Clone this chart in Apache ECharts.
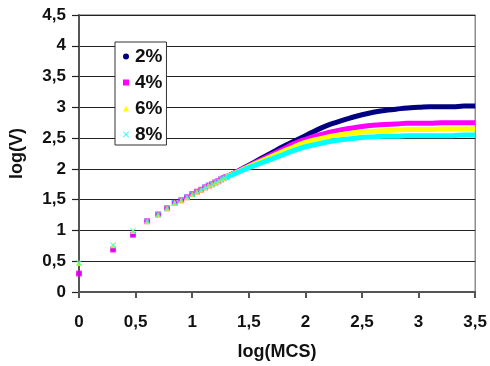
<!DOCTYPE html>
<html>
<head>
<meta charset="utf-8">
<script src="https://cdn.jsdelivr.net/npm/echarts@6/dist/echarts.min.js"></script>
<style>
  html, body { margin: 0; padding: 0; background: #fff; }
  #chart { width: 490px; height: 366px; }
</style>
</head>
<body>
<div id="chart"></div>
<script>
// log(MCS) of the first steps (MCS = 1..20), one marker each
const xSparse = [0, 0.301, 0.477, 0.602, 0.699, 0.778, 0.845, 0.903, 0.954, 1.0,
    1.041, 1.079, 1.114, 1.146, 1.176, 1.204, 1.230, 1.255, 1.279, 1.301];
const sparse2 = [0.30, 0.69, 0.93, 1.15, 1.26, 1.36, 1.45, 1.49, 1.54, 1.59,
    1.63, 1.66, 1.70, 1.73, 1.75, 1.78, 1.80, 1.83, 1.85, 1.87];
const sparse4 = [0.30, 0.69, 0.93, 1.15, 1.26, 1.36, 1.45, 1.49, 1.54, 1.59,
    1.63, 1.66, 1.70, 1.73, 1.75, 1.78, 1.80, 1.83, 1.85, 1.87];
const sparse6 = [0.47, 0.76, 0.99, 1.15, 1.26, 1.36, 1.45, 1.49, 1.54, 1.59,
    1.63, 1.66, 1.70, 1.73, 1.75, 1.78, 1.80, 1.83, 1.85, 1.87];
const sparse8 = [0.47, 0.76, 0.99, 1.15, 1.26, 1.36, 1.45, 1.49, 1.54, 1.59,
    1.63, 1.66, 1.70, 1.73, 1.75, 1.78, 1.80, 1.83, 1.85, 1.86];

// later steps, where the markers merge into a band
const xDense = [1.3, 1.4, 1.5, 1.6, 1.7, 1.8, 1.9, 2.0, 2.1, 2.2, 2.3, 2.4,
    2.5, 2.6, 2.7, 2.8, 2.9, 3.0, 3.1, 3.2, 3.3, 3.4, 3.5];
const dense2 = [1.87, 1.96, 2.06, 2.16, 2.26, 2.36, 2.45, 2.54, 2.63, 2.71, 2.77, 2.83,
    2.88, 2.92, 2.95, 2.97, 2.99, 3.00, 3.01, 3.01, 3.01, 3.02, 3.02];
const dense4 = [1.87, 1.96, 2.05, 2.14, 2.23, 2.32, 2.41, 2.48, 2.54, 2.59, 2.63, 2.66,
    2.69, 2.71, 2.72, 2.73, 2.74, 2.74, 2.74, 2.75, 2.75, 2.75, 2.75];
const dense6 = [1.87, 1.95, 2.04, 2.12, 2.20, 2.28, 2.36, 2.43, 2.48, 2.52, 2.55, 2.58,
    2.60, 2.61, 2.62, 2.63, 2.64, 2.64, 2.64, 2.65, 2.65, 2.65, 2.65];
const dense8 = [1.86, 1.94, 2.02, 2.09, 2.16, 2.23, 2.30, 2.36, 2.40, 2.44, 2.47, 2.49,
    2.51, 2.52, 2.53, 2.53, 2.54, 2.54, 2.54, 2.54, 2.54, 2.55, 2.55];

const names = ['2%', '4%', '6%', '8%'];
const colors = ['#000080', '#ff00ff', '#ffff00', '#00ffff'];
const crossPath = 'path://M0,1L1,0L5,4L9,0L10,1L6,5L10,9L9,10L5,6L1,10L0,9L4,5Z';
const symbols = ['circle', 'rect', 'triangle', crossPath];
const symbolSizes = [5, 6, 6, 6];
const sparseSets = [sparse2, sparse4, sparse6, sparse8];
const denseSets = [dense2, dense4, dense6, dense8];

const zip = (xs, ys) => xs.map((x, i) => [x, ys[i]]);
const comma = v => String(v).replace('.', ',');

const series = [];
names.forEach((name, i) => {
    series.push({
        name: name,
        type: 'line',
        data: zip(xDense, denseSets[i]),
        smooth: true,
        showSymbol: false,
        lineStyle: { color: colors[i], width: 5 },
        itemStyle: { color: colors[i] },
        z: 2 + i,
        animation: false
    });
    series.push({
        name: name,
        type: 'scatter',
        data: zip(xSparse, sparseSets[i]),
        symbol: symbols[i],
        symbolSize: symbolSizes[i],
        itemStyle: { color: colors[i] },
        z: 2 + i,
        animation: false
    });
});

const chart = echarts.init(document.getElementById('chart'));
chart.setOption({
    animation: false,
    textStyle: { fontFamily: 'Liberation Sans, Arial, sans-serif' },
    grid: {
        left: 77, right: 14, top: 15, bottom: 73,
        show: true, borderColor: '#555', borderWidth: 1
    },
    legend: {
        orient: 'vertical',
        left: 115, top: 42,
        padding: [5, 4, 1, 8],
        backgroundColor: '#fff',
        borderColor: '#333',
        borderWidth: 1,
        borderRadius: 0,
        itemGap: 7,
        itemWidth: 6,
        itemHeight: 6,
        textStyle: { fontSize: 19, fontWeight: 'bold', color: '#111', lineHeight: 19, padding: [0, 0, 0, 1] },
        data: names.map((name, i) => ({
            name: name,
            icon: symbols[i],
            itemStyle: { color: colors[i] }
        }))
    },
    xAxis: {
        type: 'value',
        min: 0, max: 3.5, interval: 0.5,
        name: 'log(MCS)',
        nameLocation: 'middle',
        nameGap: 51,
        nameTextStyle: { fontSize: 18, fontWeight: 'bold', color: '#111' },
        axisLine: { show: true, lineStyle: { color: '#555', width: 2 } },
        axisTick: { show: true, length: 6, lineStyle: { color: '#555', width: 2 } },
        axisLabel: { fontSize: 17, fontWeight: 'bold', color: '#111', margin: 22, formatter: comma },
        splitLine: { show: false }
    },
    yAxis: {
        type: 'value',
        min: 0, max: 4.5, interval: 0.5,
        name: 'log(V)',
        nameLocation: 'middle',
        nameGap: 53,
        nameTextStyle: { fontSize: 18, fontWeight: 'bold', color: '#111' },
        axisLine: { show: true, lineStyle: { color: '#555', width: 2 } },
        axisTick: { show: true, length: 7, lineStyle: { color: '#222', width: 1.2 } },
        axisLabel: { fontSize: 17, fontWeight: 'bold', color: '#111', margin: 13, formatter: comma },
        splitLine: { show: true, lineStyle: { color: '#222', width: 1.2 } }
    },
    series: series
});
</script>
</body>
</html>
